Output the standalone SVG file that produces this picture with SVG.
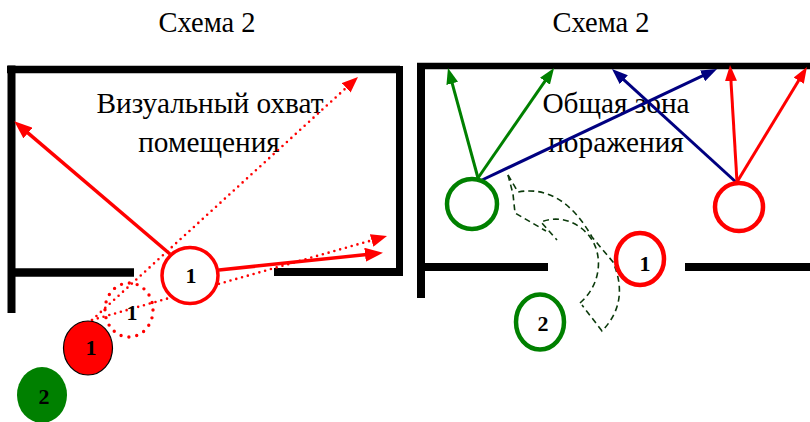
<svg xmlns="http://www.w3.org/2000/svg" width="810" height="422" viewBox="0 0 810 422">
<style>
text{font-family:"Liberation Serif","Times New Roman",serif;fill:#000}
.t{font-size:28.5px;text-anchor:middle}
.lbl{font-size:29.3px;text-anchor:middle}
.num{font-size:22px;font-weight:bold;text-anchor:middle}
.wall{stroke:#000;fill:none;stroke-linecap:butt}
.rs{stroke:#f00;stroke-width:3.5;fill:none}
.rd{stroke:#f00;stroke-width:2.6;fill:none;stroke-dasharray:0 6;stroke-linecap:round}
.ga{stroke:#008000;stroke-width:3;fill:none}
.ba{stroke:#000080;stroke-width:3;fill:none}
.ra{stroke:#f00;stroke-width:3;fill:none}
.path{stroke:#0b3a0b;stroke-width:1.6;fill:none;stroke-dasharray:6 4}
</style>
<defs>
<marker id="mRL" viewBox="0 0 18 14" refX="9" refY="7" markerWidth="18" markerHeight="14" markerUnits="userSpaceOnUse" orient="auto"><path d="M0,0 L18,7 L0,14 Z" fill="#f00"/></marker>
<marker id="mRD" viewBox="0 0 16 13" refX="8" refY="6.5" markerWidth="16" markerHeight="13" markerUnits="userSpaceOnUse" orient="auto"><path d="M0,0 L16,6.5 L0,13 Z" fill="#f00"/></marker>
<marker id="mG" viewBox="0 0 16 12" refX="8" refY="6" markerWidth="16" markerHeight="12" markerUnits="userSpaceOnUse" orient="auto"><path d="M0,0 L16,6 L0,12 Z" fill="#008000"/></marker>
<marker id="mB" viewBox="0 0 16 12" refX="8" refY="6" markerWidth="16" markerHeight="12" markerUnits="userSpaceOnUse" orient="auto"><path d="M0,0 L16,6 L0,12 Z" fill="#000080"/></marker>
<marker id="mR" viewBox="0 0 16 12" refX="8" refY="6" markerWidth="16" markerHeight="12" markerUnits="userSpaceOnUse" orient="auto"><path d="M0,0 L16,6 L0,12 Z" fill="#f00"/></marker>
</defs>
<rect width="810" height="422" fill="#fff"/>

<g id="titles">
<text class="t" x="207" y="32">Схема 2</text>
<text class="t" x="601" y="32">Схема 2</text>
</g>

<g id="walls-left">
<path class="wall" stroke-width="7.5" d="M7,69.5 H400"/>
<path class="wall" stroke-width="8" d="M11.5,65.5 V313"/>
<path class="wall" stroke-width="7" d="M399.5,66 V276"/>
<path class="wall" stroke-width="8.5" d="M15,272.5 H134"/>
<path class="wall" stroke-width="8" d="M274,272 H399"/>
</g>
<g id="walls-right">
<path class="wall" stroke-width="6.5" d="M417,66 H810"/>
<path class="wall" stroke-width="8" d="M421,63 V298"/>
<path class="wall" stroke-width="8" d="M425,267 H548"/>
<path class="wall" stroke-width="8" d="M685,267 H810"/>
</g>

<g id="labels">
<text class="lbl" x="210" y="113">Визуальный охват</text>
<text class="lbl" x="209" y="152">помещения</text>
<text class="lbl" x="616" y="113">Общая зона</text>
<text class="lbl" x="616" y="152">поражения</text>
</g>

<g id="connectors">
<line class="rs" x1="170" y1="254" x2="21.1" y2="127.2" marker-end="url(#mRL)"/>
<line class="rs" x1="219" y1="270" x2="374" y2="253.8" marker-end="url(#mRL)"/>
<line class="rd" x1="92" y1="320" x2="352.1" y2="82.4" marker-end="url(#mRD)"/>
<line class="rd" x1="92" y1="320" x2="379.3" y2="238.2" marker-end="url(#mRD)"/>
<line class="ga" x1="478" y1="178" x2="450.1" y2="75.7" marker-end="url(#mG)"/>
<line class="ga" x1="478" y1="178" x2="549.5" y2="74.6" marker-end="url(#mG)"/>
<line class="ba" x1="482" y1="180" x2="709.8" y2="72.4" marker-end="url(#mB)"/>
<line class="ba" x1="737" y1="183" x2="617.9" y2="74.4" marker-end="url(#mB)"/>
<line class="ra" x1="737" y1="182" x2="730.5" y2="73" marker-end="url(#mR)"/>
<line class="ra" x1="737" y1="182" x2="802.8" y2="73.8" marker-end="url(#mR)"/>
<path class="path" d="M508,175 L518,192 Q562,184 592,237 L613,262 Q630,302 602,331 L582,305"/>
<path class="path" d="M580,303 C602,284 603,254 590,237 C578,221 558,215 541,222 L557,240"/>
<path class="path" d="M508,175 L513,194 L515,213 L546,231"/>
</g>

<g id="node-left-1">
<circle cx="190" cy="275.5" r="28" fill="#fff" stroke="#f00" stroke-width="3.5"/>
<text class="num" x="191" y="283">1</text>
</g>
<g id="node-left-1-dotted">
<ellipse cx="129" cy="310" rx="24" ry="27" fill="none" stroke="#f00" stroke-width="3.4" stroke-dasharray="0 8" stroke-linecap="round"/>
<text class="num" x="132" y="320">1</text>
</g>
<g id="node-left-1-filled">
<ellipse cx="88" cy="348" rx="24.5" ry="27" fill="#f00" stroke="#000" stroke-width="1.2"/>
<text class="num" x="91" y="355">1</text>
</g>
<g id="node-left-2">
<ellipse cx="42" cy="395" rx="25" ry="28" fill="#008000"/>
<text class="num" x="44" y="404">2</text>
</g>

<g id="node-right-green">
<circle cx="472" cy="204" r="25" fill="#fff" stroke="#008000" stroke-width="4.5"/>
</g>
<g id="node-right-red">
<circle cx="739" cy="207" r="24" fill="#fff" stroke="#f00" stroke-width="4.5"/>
</g>
<g id="node-right-1">
<ellipse cx="640" cy="259" rx="24" ry="26" fill="#fff" stroke="#f00" stroke-width="4.5"/>
<text class="num" x="645" y="271">1</text>
</g>
<g id="node-right-2">
<ellipse cx="540" cy="322" rx="24" ry="27.5" fill="#fff" stroke="#008000" stroke-width="4.5"/>
<text class="num" x="543" y="331">2</text>
</g>
</svg>
